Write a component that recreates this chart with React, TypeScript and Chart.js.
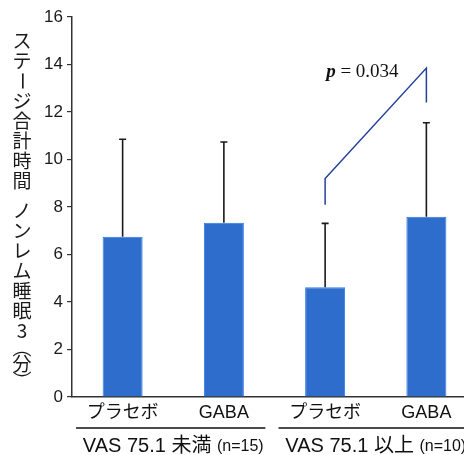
import React, { useEffect, useRef } from "react";
import { Chart, registerables } from "chart.js";

Chart.register(...registerables);

const categories = ["プラセボ", "GABA", "プラセボ", "GABA"];
const means = [6.75, 7.34, 4.62, 7.59];
const errors = [4.1, 3.4, 2.69, 3.96];
const groupLabels = ["VAS 75.1 未満 ", "VAS 75.1 以上 "];
const groupNs = ["(n=15)", "(n=10)"];
const yTitle = "ステージ合計時間 ノンレム睡眠3（分）";
const bracketFrom = 2;
const bracketTo = 3;
const bracketValues = [8.1, 9.2, 13.85, 12.4];
const pLabel = "0.034";

const FONT = "'Liberation Sans', 'Noto Sans CJK JP', sans-serif";
const verticalForms: Record<string, string> = { "（": "\uFE35", "）": "\uFE36" };

const overlayPlugin = {
  id: "overlay",
  afterDatasetsDraw(chart: any) {
    const ctx = chart.ctx;
    const x = chart.scales.x;
    const y = chart.scales.y;
    ctx.save();
    // error bars
    ctx.strokeStyle = "#1a1a1a";
    ctx.lineWidth = 1.6;
    means.forEach((m, i) => {
      const px = x.getPixelForValue(i);
      const top = y.getPixelForValue(m + errors[i]);
      const base = y.getPixelForValue(m);
      ctx.beginPath();
      ctx.moveTo(px, base);
      ctx.lineTo(px, top);
      ctx.moveTo(px - 3.5, top);
      ctx.lineTo(px + 3.5, top);
      ctx.stroke();
    });
    // bracket
    const x1 = x.getPixelForValue(bracketFrom);
    const x2 = x.getPixelForValue(bracketTo);
    ctx.strokeStyle = "#23409a";
    ctx.lineWidth = 1.5;
    ctx.beginPath();
    ctx.moveTo(x1, y.getPixelForValue(bracketValues[0]));
    ctx.lineTo(x1, y.getPixelForValue(bracketValues[1]));
    ctx.lineTo(x2, y.getPixelForValue(bracketValues[2]));
    ctx.lineTo(x2, y.getPixelForValue(bracketValues[3]));
    ctx.stroke();
    // p label
    const baseY = y.getPixelForValue(bracketValues[2]) + 9;
    ctx.fillStyle = "#111";
    ctx.textBaseline = "alphabetic";
    ctx.textAlign = "left";
    ctx.font = "italic bold 19px 'Liberation Serif', serif";
    const pw = ctx.measureText("p").width;
    ctx.fillText("p", x1 + 1, baseY);
    ctx.font = "19px 'Liberation Serif', serif";
    ctx.fillText(" = " + pLabel, x1 + 1 + pw, baseY);

    // category labels
    ctx.font = "18px " + FONT;
    ctx.textAlign = "center";
    ctx.textBaseline = "middle";
    ctx.fillStyle = "#111";
    categories.forEach((c, i) => {
      ctx.fillText(c, x.getPixelForValue(i), 413);
    });
    // group lines and labels
    const spacing = x.getPixelForValue(1) - x.getPixelForValue(0);
    ctx.strokeStyle = "#111";
    ctx.lineWidth = 1.5;
    groupLabels.forEach((g, gi) => {
      const a = x.getPixelForValue(gi * 2);
      const b = x.getPixelForValue(gi * 2 + 1);
      ctx.beginPath();
      ctx.moveTo(a - 0.46 * spacing, 428);
      ctx.lineTo(b + 0.41 * spacing, 428);
      ctx.stroke();
      ctx.font = "20px " + FONT;
      const w1 = ctx.measureText(g).width;
      ctx.font = "16px " + FONT;
      const w2 = ctx.measureText(groupNs[gi]).width;
      const cx = (a + b) / 2;
      const start = cx - (w1 + w2) / 2;
      ctx.textAlign = "left";
      ctx.font = "20px " + FONT;
      ctx.fillText(g, start, 446);
      ctx.font = "16px " + FONT;
      ctx.fillText(groupNs[gi], start + w1, 447);
    });

    // vertical y title
    ctx.font = "19px 'Noto Sans CJK JP', sans-serif";
    ctx.textAlign = "center";
    ctx.textBaseline = "middle";
    ctx.fillStyle = "#1a1a1a";
    let cy = 31;
    for (const ch of Array.from(yTitle)) {
      let step = 20;
      if (ch === " ") step = 10;
      else if (ch === "（" || ch === "）") step = 13;
      const mid = cy + step / 2;
      if (ch !== " ") {
        if (ch === "ー") {
          ctx.save();
          ctx.translate(22, mid);
          ctx.rotate(Math.PI / 2);
          ctx.fillText(ch, 0, 0);
          ctx.restore();
        } else {
          ctx.fillText(verticalForms[ch] || ch, 22, mid);
        }
      }
      cy += step;
    }
    ctx.restore();
  },
};

export default function App() {
  const ref = useRef<HTMLCanvasElement>(null);
  useEffect(() => {
    if (!ref.current) return;
    const chart = new Chart(ref.current, {
      type: "bar",
      data: {
        labels: categories,
        datasets: [
          {
            data: means,
            backgroundColor: "#2f6dcc",
            borderColor: "#2f7ae6",
            borderWidth: 1,
            barPercentage: 0.395,
            categoryPercentage: 1,
          },
        ],
      },
      options: {
        animation: false,
        responsive: false,
        devicePixelRatio: 1,
        layout: { padding: { top: 17, right: 0, left: 0, bottom: 0 } },
        plugins: { legend: { display: false }, tooltip: { enabled: false }, title: { display: false } },
        scales: {
          x: {
            grid: { display: false },
            border: { display: true, color: "#333", width: 1.5 },
            ticks: { display: false },
            afterFit(scale: any) {
              scale.height = 58;
            },
          },
          y: {
            min: 0,
            max: 16,
            ticks: {
              stepSize: 2,
              padding: 4,
              color: "#1a1a1a",
              font: { family: "'Liberation Sans', Arial, sans-serif", size: 17 },
            },
            grid: { drawOnChartArea: false, tickLength: 5, color: "#333", lineWidth: 1.2 },
            border: { display: true, color: "#333", width: 1.5 },
            afterFit(scale: any) {
              scale.width = 72;
            },
          },
        },
      },
      plugins: [overlayPlugin],
    });
    return () => chart.destroy();
  }, []);
  return (
    <div
      style={{
        position: "fixed",
        left: 0,
        top: 0,
        width: 464,
        height: 455,
        overflow: "hidden",
        background: "#fff",
      }}
    >
      <canvas ref={ref} width={477} height={455} style={{ display: "block" }} />
    </div>
  );
}
